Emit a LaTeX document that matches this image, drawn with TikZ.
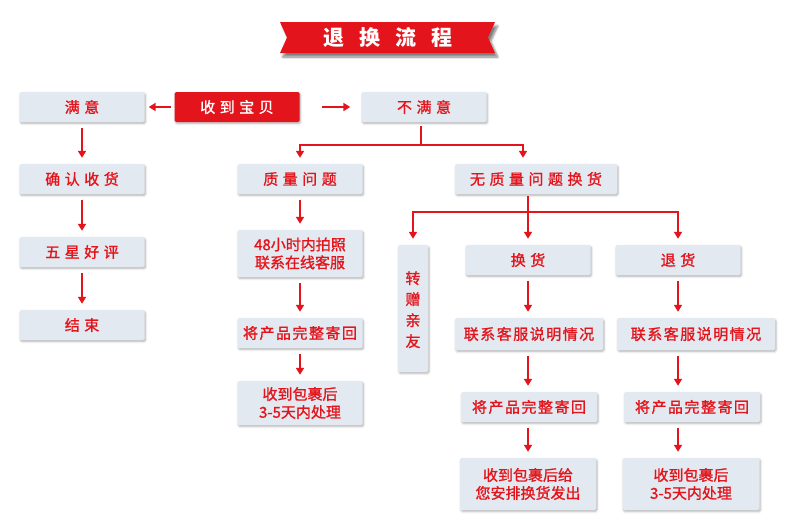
\documentclass[tikz,border=0pt]{standalone}
\usepackage{fontspec}
\setmainfont{Noto Sans CJK SC}[FakeBold=1.2]
\newfontfamily\cjkwide[LetterSpace=30,FakeBold=1.2]{Noto Sans CJK SC}
\newfontfamily\cjkmid[LetterSpace=10,FakeBold=1.2]{Noto Sans CJK SC}
\newfontfamily\cjktitle[LetterSpace=70]{Noto Sans CJK SC}
\usepackage{tikz}
\usetikzlibrary{arrows.meta,shadows.blur}
\definecolor{flowred}{HTML}{E3141B}
\definecolor{boxgray}{HTML}{E3E9F0}
\tikzstyle{box}=[rectangle, rounded corners=1.5pt, fill=boxgray, text=flowred,
        blur shadow={shadow blur steps=5, shadow xshift=1pt, shadow yshift=-1.5pt, shadow opacity=30},
        minimum width=125pt, minimum height=30pt, inner sep=0pt, align=center,
        font=\cjkwide\fontsize{15}{18}\selectfont]
\tikzstyle{twoline}=[box, font=\fontsize{15}{18}\selectfont]
\tikzstyle{midtext}=[box, font=\cjkmid\fontsize{15}{18}\selectfont]
\tikzstyle{line}=[draw=flowred, line width=2pt]
\tikzstyle{arrow}=[line, -{Triangle[length=7pt,width=8pt]}, shorten >=6pt]

\begin{document}
\begin{tikzpicture}[x=1pt, y=-1pt]
\useasboundingbox (0,0) rectangle (790,530);
% title ribbon
\fill[flowred, blur shadow={shadow blur steps=8, shadow yshift=-4pt, shadow opacity=50}]
  (280,22) -- (495,22) -- (488,37.5) -- (495,53) -- (280,53) -- (287,37.5) -- cycle;
\node[text=white, font=\cjktitle\bfseries\fontsize{21}{23}\selectfont] (title) at (388,37.5) {退换流程};

% first row
\node[box, fill=flowred, text=white] (got) at (237,107) {收到宝贝};
\node[box] (sat) at (82,107) {满意};
\node[box] (unsat) at (424,107) {不满意};

% satisfied column
\node[box] (confirm) at (82,179) {确认收货};
\node[box] (rate) at (82,252) {五星好评};
\node[box] (finish) at (82,325) {结束};

% quality problem column
\node[box] (quality) at (300,179) {质量问题};
\node[twoline, minimum height=47pt] (photo) at (300,253.5) {48小时内拍照\\联系在线客服};
\node[midtext] (sendA) at (300,333) {将产品完整寄回};
\node[twoline, minimum height=44pt] (doneA) at (300,403) {收到包裹后\\3-5天内处理};

% no quality problem
\node[box, minimum width=162pt] (noq) at (536,179) {无质量问题换货};
\node[box, font=\fontsize{15}{21}\selectfont, minimum width=30pt, minimum height=127pt] (gift) at (413,308.5) {\\[-6pt]转\\赠\\亲\\友};
\node[box] (swap) at (528,260) {换货};
\node[box] (refund) at (678,260) {退货};
\node[midtext, minimum width=148pt, minimum height=32pt] (callB) at (529,334) {联系客服说明情况};
\node[midtext, minimum width=158pt, minimum height=32pt] (callC) at (696,334) {联系客服说明情况};
\node[midtext, minimum width=136pt] (sendB) at (529,407) {将产品完整寄回};
\node[midtext, minimum width=136pt] (sendC) at (692,407) {将产品完整寄回};
\node[twoline, minimum width=136pt, minimum height=52pt] (doneB) at (528,484) {收到包裹后给\\您安排换货发出};
\node[twoline, minimum width=137pt, minimum height=52pt] (doneC) at (691,484) {收到包裹后\\3-5天内处理};

% connectors
\draw[arrow, shorten <=3pt, shorten >=4pt] (got.west) -- (sat.east);
\draw[arrow, shorten <=22pt, shorten >=11pt] (got.east) -- (unsat.west);
\foreach \a/\b in {sat/confirm, confirm/rate, rate/finish, quality/photo, photo/sendA, sendA/doneA}
  \draw[arrow, shorten <=6pt] (\a) -- (\b);
\draw[arrow, shorten <=6pt] (swap.south) -- (swap.south |- callB.north);
\draw[arrow, shorten <=6pt] (refund.south) -- (refund.south |- callC.north);
\draw[arrow, shorten <=6pt] (callB.south -| swap) -- (sendB.north -| swap);
\draw[arrow, shorten <=6pt] (callC.south -| refund) -- (sendC.north -| refund);
\draw[arrow, shorten <=6pt] (sendB.south -| swap) -- (doneB.north -| swap);
\draw[arrow, shorten <=6pt] (sendC.south -| refund) -- (doneC.north -| refund);

\coordinate (split1) at (421,145);
\draw[line] ([xshift=-3pt, yshift=-4pt]unsat.south) -- (split1);
\draw[arrow] (split1) -| (quality);
\draw[arrow] (split1) -| ([xshift=-13pt]noq.north);

\coordinate (split2) at (528,212);
\draw[line] (split2 |- noq.south) ++(0,2) -- (split2);
\draw[arrow] (split2) -| (gift);
\draw[arrow] (split2) -- (swap);
\draw[arrow] (split2) -| (refund);
\end{tikzpicture}
\end{document}
